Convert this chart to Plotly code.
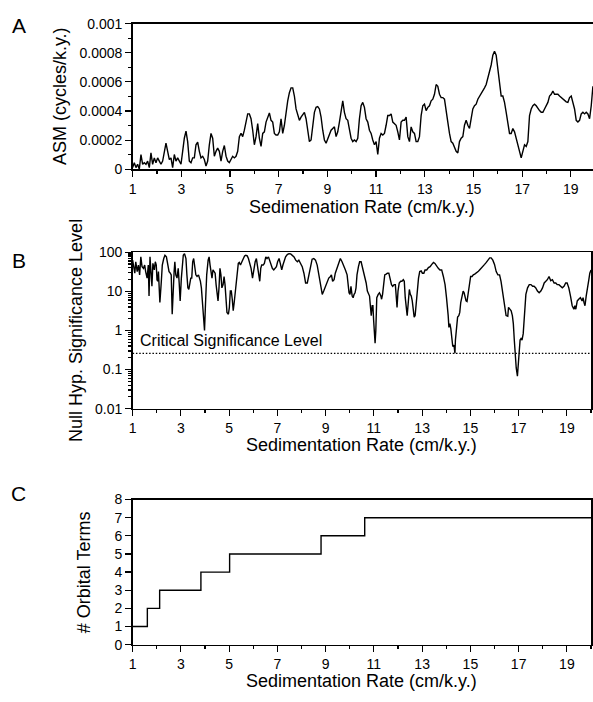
import numpy as np
import plotly.graph_objects as go

# ---------------- Panel A: ASM (units of 1e-4 cycles/k.y.), sampled every 0.0685 cm/k.y. from 1
rate_step_a = 0.0685
asm_e4 = [
    0.11, 0.45, 0.11, 0.34, 0.0, 1.01, 0.34, 0.45, 0.34, 0.56,
    0.11, 1.12, 0.34, 0.78, 0.45, 0.78, 0.56, 0.34, 0.56, 1.23,
    1.79, 1.23, 0.67, 0.78, 0.11, 1.01, 0.56, 0.78, 0.56, 0.34,
    1.23, 2.13, 2.62, 1.90, 0.56, 0.45, 0.78, 0.78, 1.68, 1.86,
    1.23, 0.78, 0.89, 0.67,
    0.22, 0.56, 1.68, 2.46, 2.13, 0.89, 1.23, 1.45, 1.23, 0.56,
    1.23, 1.63, 0.90, 0.56, 0.45, 0.67, 0.89, 0.78, 0.89, 1.23,
    2.24, 2.46, 2.24, 2.68, 3.36, 3.80, 3.80, 3.47, 2.68, 1.68,
    2.24, 3.13, 2.13, 1.57, 2.46, 2.57, 3.24, 3.58, 3.87, 3.36,
    3.24, 2.46, 2.35, 2.35, 2.57, 3.47, 2.46, 3.02, 3.91, 4.70,
    5.26, 5.59, 5.59, 5.03, 4.14, 3.69, 3.36, 3.58, 3.80, 3.91,
    3.47, 2.68, 1.90, 2.01, 3.13, 3.91, 4.25, 4.30, 4.14, 3.58,
    2.68, 2.01, 1.79, 2.13, 2.35, 2.68, 2.80, 2.91, 2.24, 2.57,
    3.24, 4.03,
    4.70, 3.91, 3.47, 3.36, 2.57, 2.13, 1.90, 2.01, 1.90, 2.13,
    3.47, 4.36, 4.59, 4.25, 3.47, 3.24, 2.68, 2.46, 2.01, 1.68,
    1.90, 1.01, 2.13, 2.46, 2.35, 2.46, 3.02, 3.69, 3.69, 3.80,
    3.24, 3.13, 3.02, 2.57, 2.01, 3.24, 3.36, 3.36, 3.58, 2.24,
    1.90, 2.91, 2.57, 2.46, 1.90, 1.90, 2.24, 3.69, 4.36, 4.47,
    4.03, 4.25, 4.36, 4.70, 4.81, 5.15, 5.82, 5.70, 5.15, 4.92,
    4.92, 4.81, 4.14, 3.24, 2.46, 1.90, 1.79, 1.45, 1.23, 1.12,
    1.90, 2.13, 2.24, 3.02, 3.36, 3.02, 2.80, 3.47, 4.14, 4.36,
    4.47, 4.81, 4.99, 5.15, 5.37, 5.59, 5.82, 6.26, 6.60, 7.16,
    7.83, 8.10, 7.83, 6.94, 5.93, 5.03, 5.03, 4.59, 3.91, 3.13,
    2.46, 2.46, 2.80, 2.57, 2.13, 1.57, 1.23, 0.78, 1.23, 1.68,
    1.57, 1.90, 3.69, 4.14, 4.36, 4.47, 4.36, 4.14, 4.03, 3.91,
    3.91, 4.14, 4.36, 4.59, 5.03, 5.15, 5.37, 5.15, 5.15, 5.15,
    5.03, 4.92, 4.81, 4.70, 4.63, 4.59, 4.92, 5.03, 4.59, 4.14,
    3.36, 3.24, 3.36, 3.80, 3.91, 3.80, 3.91, 3.80, 3.47, 4.36,
    5.70,
]
rate_a = 1 + rate_step_a * np.arange(len(asm_e4))
asm = np.array(asm_e4) * 1e-4

# ---------------- Panel B: null hypothesis significance level (%)
rate_b = [
    1.00, 1.05, 1.09, 1.13, 1.19, 1.24, 1.29, 1.34, 1.39, 1.45,
    1.50, 1.54, 1.60, 1.65, 1.68, 1.72, 1.78, 1.80, 1.84, 1.90,
    1.94, 1.98, 2.01, 2.04, 2.07, 2.09, 2.13, 2.19, 2.23, 2.29,
    2.34, 2.40, 2.45, 2.51, 2.56, 2.60, 2.64, 2.68, 2.72, 2.75,
    2.79, 2.84, 2.89, 2.93, 2.97, 3.02, 3.06, 3.10, 3.15, 3.21,
    3.25, 3.29, 3.33, 3.37, 3.41, 3.45, 3.49, 3.53, 3.58, 3.62,
    3.67, 3.73, 3.77, 3.81, 3.85, 3.89, 3.93, 3.98, 4.02, 4.07,
    4.13, 4.17, 4.21, 4.25, 4.29, 4.33, 4.37, 4.42, 4.46, 4.50,
    4.54, 4.58, 4.62, 4.66, 4.70, 4.75, 4.79, 4.83, 4.87, 4.91,
    4.97, 5.01, 5.05, 5.09, 5.13, 5.17, 5.21, 5.25, 5.30, 5.34,
    5.38, 5.42, 5.47, 5.53, 5.58, 5.64, 5.69, 5.75, 5.80, 5.86,
    5.91, 5.97, 6.02, 6.08, 6.13, 6.18, 6.22, 6.27, 6.31, 6.35,
    6.41, 6.46, 6.52, 6.57, 6.63, 6.68, 6.74, 6.79, 6.85, 6.90,
    6.96, 7.01, 7.07, 7.12, 7.18, 7.23, 7.29, 7.34, 7.41, 7.48,
    7.55, 7.62, 7.69, 7.76, 7.83, 7.89, 7.96, 8.03, 8.10, 8.17,
    8.24, 8.31, 8.38, 8.44, 8.51, 8.58, 8.65, 8.72, 8.79, 8.86,
    8.92, 8.99, 9.06, 9.13, 9.20, 9.24, 9.29, 9.35, 9.40, 9.47,
    9.54, 9.61, 9.68, 9.75, 9.82, 9.89,
    9.90, 9.97, 10.01, 10.05, 10.10, 10.14, 10.18, 10.22, 10.26, 10.30,
    10.36, 10.41, 10.47, 10.52, 10.58, 10.63, 10.68, 10.73, 10.77, 10.82,
    10.86, 10.89, 10.93, 10.96, 10.99, 11.03, 11.05, 11.08, 11.12, 11.18,
    11.23, 11.29, 11.32, 11.36, 11.40, 11.45, 11.51, 11.56, 11.62, 11.67,
    11.73, 11.78, 11.84, 11.89, 11.93, 11.96, 12.00, 12.05, 12.11, 12.16,
    12.22, 12.26, 12.30, 12.34, 12.38, 12.42, 12.47, 12.51, 12.55, 12.59,
    12.63, 12.67, 12.71, 12.75, 12.79, 12.85, 12.90, 12.96, 13.01, 13.07,
    13.12, 13.19, 13.26, 13.33, 13.40, 13.47, 13.53, 13.60, 13.67, 13.74,
    13.81, 13.88, 13.95, 14.01, 14.06, 14.08, 14.11, 14.15, 14.19, 14.23,
    14.27, 14.32, 14.36, 14.38, 14.43, 14.47, 14.52, 14.56, 14.60, 14.66,
    14.70, 14.74, 14.78, 14.82, 14.86, 14.90, 14.96, 15.01, 15.07, 15.12,
    15.18, 15.25, 15.32, 15.38, 15.45, 15.52, 15.59, 15.66, 15.73, 15.80,
    15.86, 15.93, 16.00, 16.07, 16.14, 16.21, 16.27, 16.34, 16.41, 16.48,
    16.55, 16.58, 16.63, 16.69, 16.74, 16.78, 16.82, 16.86, 16.90, 16.95,
    16.97, 17.01, 17.06, 17.10, 17.14, 17.19, 17.25, 17.30, 17.37, 17.44,
    17.51, 17.58, 17.64, 17.71, 17.78, 17.85, 17.92, 17.99, 18.06, 18.12,
    18.19, 18.26, 18.33, 18.40, 18.47, 18.54, 18.60, 18.67, 18.74, 18.81,
    18.88, 18.95, 19.01, 19.08, 19.15, 19.22, 19.29, 19.33, 19.37, 19.43,
    19.49, 19.56, 19.63, 19.67, 19.71, 19.75, 19.80, 19.85, 19.91, 19.95,
    20.00,
]
nhsl = [
    63.0, 42.9, 29.2, 57.3, 32.1, 47.2, 26.5, 76.4, 42.9, 38.9,
    47.2, 32.1, 21.9, 47.2, 7.6, 76.4, 26.5, 13.5, 52.0, 35.4,
    57.3, 47.2, 19.9, 18.1, 32.1, 16.4, 5.2, 18.1, 47.2, 69.3,
    84.1, 76.4, 52.0, 32.1, 29.2, 26.5, 2.6, 14.9, 32.1, 57.3,
    26.5, 21.9, 38.9, 16.4, 5.7, 21.9, 57.3, 84.1, 92.6, 69.3,
    26.5, 12.3, 11.2, 18.1, 21.9, 21.9, 57.3, 69.3, 38.9, 26.5,
    24.1, 26.5, 21.9, 18.1, 12.3, 5.7, 2.2, 1.0, 4.7, 26.5,
    63.0, 76.4, 47.2, 26.5, 21.9, 35.4, 32.1, 29.2, 14.9, 8.4,
    5.7, 12.3, 38.9, 26.5, 12.3, 14.9, 24.1, 14.9, 5.2, 2.9,
    2.6, 3.9, 10.2, 10.2, 6.3, 3.2, 5.2, 9.2, 12.3, 21.9,
    52.0, 55.1, 47.2, 57.3, 69.3, 80.9, 84.1, 80.9, 69.3, 52.0,
    38.9, 21.9, 38.9, 57.3, 69.3, 38.9, 26.5, 18.1, 38.9, 47.2,
    47.2, 52.0, 76.4, 69.3, 76.4, 63.0, 47.2, 38.9, 35.4, 38.9,
    42.9, 57.3, 69.3, 52.0, 35.4, 47.2, 63.0, 76.4, 87.4, 92.6,
    91.0, 84.1, 76.4, 63.0, 57.3, 63.0, 52.0, 42.9, 29.2, 16.4,
    16.4, 29.2, 52.0, 66.7, 69.3, 63.0, 47.2, 26.5, 12.3, 8.4,
    10.2, 13.5, 18.1, 21.9, 24.1, 26.5, 18.1, 19.9, 29.2, 38.9,
    52.0, 69.3, 57.3, 47.2, 35.4, 26.5,
    21.9, 9.2, 8.4, 13.5, 7.6, 6.9, 8.4, 9.2, 12.3, 26.5,
    42.9, 57.3, 57.3, 42.9, 29.2, 21.9, 16.4, 10.2, 9.2, 7.6,
    3.9, 2.4, 4.3, 4.3, 1.8, 0.83, 0.47, 1.0, 6.9, 8.4,
    9.2, 7.6, 6.3, 8.4, 12.3, 26.5, 27.6, 29.2, 29.2, 21.9,
    14.9, 13.5, 14.9, 14.9, 8.4, 3.9, 10.2, 16.4, 18.1, 18.1,
    19.9, 18.1, 6.9, 3.9, 2.4, 4.7, 11.2, 8.4, 7.6, 5.7,
    3.5, 2.2, 2.4, 4.7, 10.2, 21.9, 32.1, 33.4, 29.2, 29.2,
    35.4, 35.4, 40.5, 42.9, 49.1, 55.1, 52.0, 42.9, 38.9, 35.4,
    35.4, 24.1, 14.9, 6.9, 3.9, 2.4, 1.2, 1.5, 1.1, 0.57,
    0.39, 0.42, 0.26, 0.57, 1.1, 2.2, 2.4, 2.9, 5.2, 8.4,
    10.2, 9.2, 6.9, 5.7, 5.5, 8.4, 18.1, 24.1, 24.1, 26.5,
    27.6, 29.2, 32.1, 35.4, 38.9, 42.9, 49.1, 55.1, 63.0, 72.1,
    72.1, 63.0, 49.1, 32.1, 26.5, 26.5, 18.1, 10.2, 4.7, 2.4,
    2.3, 3.9, 3.5, 3.2, 2.4, 1.5, 0.57, 0.22, 0.11, 0.068,
    0.10, 0.26, 0.57, 0.62, 0.57, 0.83, 2.6, 8.4, 12.3, 14.9,
    14.9, 13.5, 13.5, 12.3, 10.2, 9.2, 10.2, 12.3, 16.4, 18.1,
    19.9, 24.1, 18.8, 19.9, 16.4, 16.4, 14.9, 14.9, 13.5, 12.3,
    13.5, 16.4, 16.4, 12.3, 7.6, 4.3, 3.5, 4.3, 3.5, 5.7,
    6.3, 6.9, 5.7, 6.9, 5.2, 4.3, 7.6, 13.5, 19.9, 29.2,
    35.4,
]
critical_level = 0.26
rate_extent = [1, 20]

# ---------------- Panel C: number of orbital terms (step function)
step_rates = [1, 1.61, 2.12, 3.83, 5.02, 8.81, 10.62, 20]
orbital_terms = [1, 2, 3, 4, 5, 6, 7, 7]

# ---------------- Tick labels
x_major = [1, 3, 5, 7, 9, 11, 13, 15, 17, 19]
x_minor = list(range(1, 21))
asm_ticks = [0, 0.0002, 0.0004, 0.0006, 0.0008, 0.001]
asm_ticktext = ["0", "0.0002", "0.0004", "0.0006", "0.0008", "0.001"]
asm_minor = [0.0001, 0.0003, 0.0005, 0.0007, 0.0009]
nh_ticks = [0.01, 0.1, 1, 10, 100]
nh_ticktext = ["0.01", "0.1", "1", "10", "100"]
nh_minor = [m * d for d in [0.01, 0.1, 1, 10] for m in range(2, 10)]
terms_ticks = list(range(0, 9))

FONT = "Liberation Sans, Arial, Helvetica, sans-serif"
W, H = 593, 702
LINE = dict(color="black", width=1.4)

fig = go.Figure()
fig.add_trace(go.Scatter(x=rate_a, y=asm, mode="lines", line=LINE, xaxis="x", yaxis="y",
                         hoverinfo="skip"))
fig.add_trace(go.Scatter(x=rate_b, y=nhsl, mode="lines", line=LINE, xaxis="x2", yaxis="y2",
                         hoverinfo="skip"))
fig.add_trace(go.Scatter(x=rate_extent, y=[critical_level, critical_level], mode="lines",
                         line=dict(color="black", width=1.2, dash="1.5px,1.8px"),
                         xaxis="x2", yaxis="y2", hoverinfo="skip"))
fig.add_trace(go.Scatter(x=step_rates, y=orbital_terms, mode="lines", line_shape="hv",
                         line=LINE, xaxis="x3", yaxis="y3", hoverinfo="skip"))


def px_x(p):
    return p / W


def px_y(p):
    return 1 - p / H


x_dom_full = [px_x(129.5), px_x(591)]
axis_common = dict(showline=True, linecolor="black", linewidth=1.5, ticks="outside",
                   tickcolor="black", tickwidth=1.2, showgrid=False, zeroline=False,
                   tickfont=dict(size=14, color="black", family=FONT))


def xaxis(domain, rng, anchor, mirror):
    return dict(axis_common, domain=domain, range=rng, anchor=anchor, mirror=mirror,
                tickmode="array", tickvals=x_major, ticklen=6,
                minor=dict(tickmode="array", tickvals=x_minor, ticks="outside",
                           ticklen=3, tickwidth=1.2, tickcolor="black"))


fig.update_layout(
    width=W, height=H,
    margin=dict(l=0, r=0, t=0, b=0),
    paper_bgcolor="white", plot_bgcolor="white",
    showlegend=False,
    hovermode=False,
    font=dict(family=FONT, color="black"),
    xaxis=xaxis([px_x(129.5), 1.0], [1, 19.91], "y", True),
    yaxis=dict(axis_common, domain=[px_y(165), px_y(16)], range=[0, 0.001], anchor="x",
               mirror=False, tickmode="array", tickvals=asm_ticks, ticktext=asm_ticktext,
               ticklen=6,
               minor=dict(tickmode="array", tickvals=asm_minor, ticks="outside",
                          ticklen=3, tickwidth=1.2, tickcolor="black")),
    xaxis2=xaxis(x_dom_full, rate_extent, "y2", True),
    yaxis2=dict(axis_common, type="log", domain=[px_y(410), px_y(250)], range=[-2, 2],
                anchor="x2", mirror=True, tickmode="array", tickvals=nh_ticks,
                ticktext=nh_ticktext, ticklen=6,
                minor=dict(tickmode="array", tickvals=nh_minor, ticks="outside",
                           ticklen=3, tickwidth=1.2, tickcolor="black")),
    xaxis3=xaxis(x_dom_full, rate_extent, "y3", True),
    yaxis3=dict(axis_common, domain=[px_y(651.5), px_y(503)], range=[0, 8], anchor="x3",
                mirror=True, tickmode="array", tickvals=terms_ticks, ticklen=6),
)

ann = []
TITLE = dict(size=18, color="black", family=FONT)
for letter, yy in [("A", 18), ("B", 258), ("C", 497)]:
    ann.append(dict(text=letter, x=px_x(15), y=px_y(yy), xref="paper", yref="paper",
                    showarrow=False, xanchor="center", yanchor="middle",
                    font=dict(size=21, color="black", family=FONT)))
for txt, xx, yy in [("ASM (cycles/k.y.)", 57, 90.5),
                    ("Null Hyp. Significance Level", 73, 330),
                    ("# Orbital Terms", 80, 577)]:
    ann.append(dict(text=txt, x=px_x(xx), y=px_y(yy), xref="paper", yref="paper",
                    showarrow=False, textangle=-90, xanchor="center", yanchor="middle",
                    font=TITLE))
for txt, yy in [("Sedimenation Rate (cm/k.y.)", 204),
                ("Sedimentation Rate (cm/k.y.)", 447),
                ("Sedimentation Rate (cm/k.y.)", 689)]:
    ann.append(dict(text=txt, x=px_x(360), y=px_y(yy), xref="paper", yref="paper",
                    showarrow=False, xanchor="center", yanchor="middle", font=TITLE))
ann.append(dict(text="Critical Significance Level", x=1.23, y=-0.25, xref="x2", yref="y2",
                showarrow=False, xanchor="left", yanchor="middle",
                font=dict(size=16, color="black", family=FONT)))
fig.update_layout(annotations=ann)

fig.write_html(
    "out.html",
    config={"displayModeBar": False, "staticPlot": True},
    post_script="document.body.style.margin='0';document.body.style.padding='0';"
                "document.documentElement.style.overflow='hidden';",
)
